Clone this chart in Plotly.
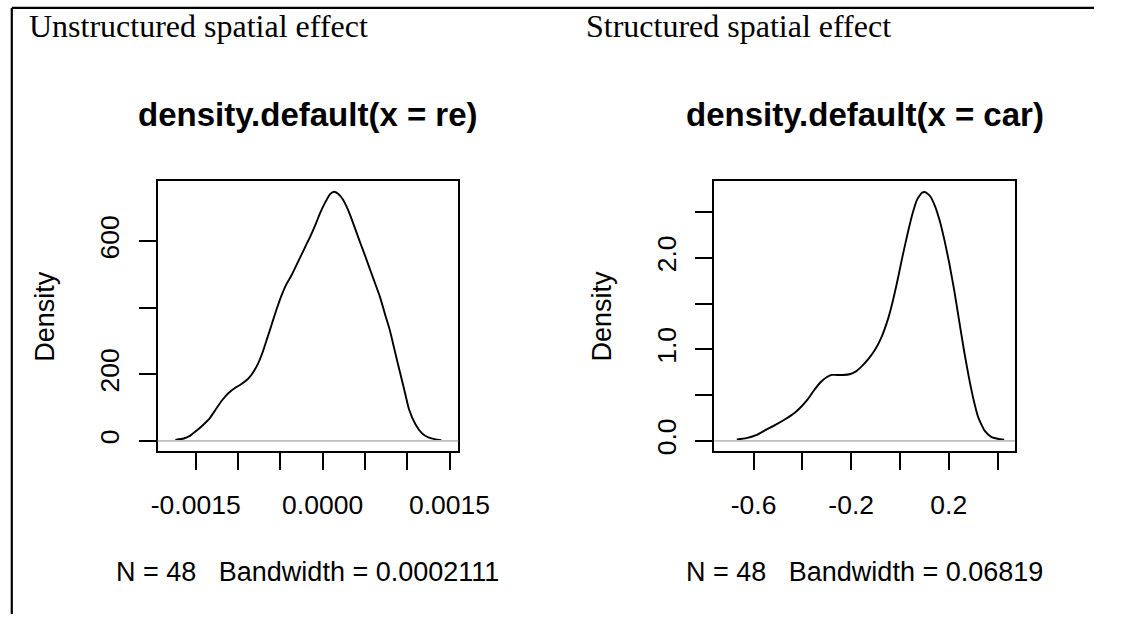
import plotly.graph_objects as go

W, H = 1126, 618

# ---- data ----
re_x = [-0.00174, -0.00164, -0.001569, -0.001492, -0.001416, -0.00134, -0.001264, -0.001188,
        -0.001112, -0.001036, -0.000959, -0.000883, -0.000826, -0.000769, -0.000712, -0.000655,
        -0.000598, -0.000541, -0.000484, -0.000426, -0.000369, -0.000312, -0.000255, -0.000198,
        -0.000141, -0.000083, -0.000026, 0.000031, 0.000088, 0.000137, 0.000183, 0.00024,
        0.000297, 0.000336, 0.000393, 0.00045, 0.000507, 0.000564, 0.000621, 0.000678,
        0.000735, 0.000793, 0.00085, 0.000907, 0.000964, 0.001021, 0.001097, 0.001173,
        0.001249, 0.001325, 0.001402]
re_density = [3, 7, 15, 30, 47, 66, 94, 122, 144, 159, 171, 186, 204, 229, 264, 308,
              353, 398, 438, 472, 497, 527, 557, 587, 617, 651, 687, 717, 742, 749, 743, 726,
              697, 672, 632, 592, 553, 513, 473, 433, 383, 334, 274, 214, 155, 95, 50, 23,
              10, 5, 2]

car_x = [-0.6686, -0.629, -0.5894, -0.5498, -0.5102, -0.4706, -0.431, -0.4046, -0.3782,
         -0.3518, -0.3254, -0.299, -0.2792, -0.2594, -0.233, -0.2066, -0.1802, -0.1538,
         -0.1274, -0.101, -0.0746, -0.0482, -0.0284, -0.0086, 0.0112, 0.031, 0.0508, 0.0706,
         0.0904, 0.1036, 0.1234, 0.1432, 0.163, 0.1828, 0.2026, 0.2224, 0.2422, 0.262, 0.2818,
         0.3016, 0.3214, 0.3478, 0.3742, 0.4006, 0.427]
car_density = [0.0145, 0.029, 0.0615, 0.119, 0.174, 0.235, 0.307, 0.372, 0.452, 0.553, 0.640,
               0.698, 0.720, 0.720, 0.720, 0.727, 0.759, 0.821, 0.90, 1.001, 1.139, 1.338,
               1.537, 1.772, 2.025, 2.260, 2.477, 2.640, 2.712, 2.719, 2.676, 2.568, 2.405,
               2.188, 1.935, 1.646, 1.320, 0.995, 0.705, 0.452, 0.253, 0.108, 0.043, 0.022, 0.011]

re_xticks = [-0.0015, -0.001, -0.0005, 0.0, 0.0005, 0.001, 0.0015]
re_xticklabels = ["-0.0015", "", "", "0.0000", "", "", "0.0015"]
re_yticks = [0, 200, 400, 600]
re_yticklabels = ["0", "200", "", "600"]
car_xticks = [-0.6, -0.4, -0.2, 0.0, 0.2, 0.4]
car_xticklabels = ["-0.6", "", "-0.2", "", "0.2", ""]
car_yticks = [0, 0.5, 1.0, 1.5, 2.0, 2.5]
car_yticklabels = ["0.0", "", "1.0", "", "2.0", ""]

panel_titles = ["Unstructured spatial effect", "Structured spatial effect"]
main_titles = ["density.default(x = re)", "density.default(x = car)"]
sub_titles = ["N = 48\u00a0\u00a0\u00a0Bandwidth = 0.0002111", "N = 48\u00a0\u00a0\u00a0Bandwidth = 0.06819"]
y_title = "Density"

# ---- layout helpers (pixels) ----
def fx(p):
    return p / W

def fy(p):
    return 1 - p / H

SANS = "Liberation Sans, Arial, sans-serif"
SERIF = "Liberation Serif, Times New Roman, serif"
FS = 26.5
OFF = 576
BOX_L, BOX_R, BOX_T, BOX_B = 157, 468, 182.3, 454.3

fig = go.Figure()
fig.add_trace(go.Scatter(x=re_x, y=re_density, mode="lines",
                         line=dict(color="black", width=1.9, shape="spline", smoothing=0.5),
                         xaxis="x", yaxis="y", showlegend=False, hoverinfo="skip"))
fig.add_trace(go.Scatter(x=car_x, y=car_density, mode="lines",
                         line=dict(color="black", width=1.9, shape="spline", smoothing=0.5),
                         xaxis="x2", yaxis="y2", showlegend=False, hoverinfo="skip"))

common = dict(showline=True, mirror=True, linecolor="black", linewidth=1.8,
              ticks="outside", ticklen=17, tickwidth=1.8, tickcolor="black",
              showgrid=False, zeroline=False,
              tickfont=dict(family=SANS, size=FS, color="black"))

ydom = [fy(BOX_B), fy(BOX_T)]
fig.update_layout(
    width=W, height=H, margin=dict(l=0, r=0, t=0, b=0),
    paper_bgcolor="white", plot_bgcolor="white",
    xaxis=dict(domain=[fx(BOX_L), fx(BOX_R)], range=[-0.001949, 0.0016027], anchor="y",
               tickvals=re_xticks, ticktext=re_xticklabels, ticklabelstandoff=12, **common),
    yaxis=dict(domain=ydom, range=[-31.7, 781], anchor="x",
               tickvals=re_yticks, ticktext=re_yticklabels, tickangle=-90,
               ticklabelstandoff=9, **common),
    xaxis2=dict(domain=[fx(BOX_L + OFF), fx(BOX_R + OFF)], range=[-0.761, 0.4706], anchor="y2",
                tickvals=car_xticks, ticktext=car_xticklabels, ticklabelstandoff=12, **common),
    yaxis2=dict(domain=ydom, range=[-0.1157, 2.839], anchor="x2",
                tickvals=car_yticks, ticktext=car_yticklabels, tickangle=-90,
                ticklabelstandoff=9, **common),
)

shapes = [
    dict(type="line", xref="paper", yref="paper", x0=fx(6), x1=1, y0=fy(8), y1=fy(8),
         line=dict(color="black", width=2.2)),
    dict(type="line", xref="paper", yref="paper", x0=fx(6), x1=fx(6), y0=0, y1=fy(8),
         line=dict(color="black", width=2.2)),
    dict(type="line", xref="x domain", yref="y", x0=0, x1=1, y0=0, y1=0,
         line=dict(color="#BEBEBE", width=1.8), layer="above"),
    dict(type="line", xref="x2 domain", yref="y2", x0=0, x1=1, y0=0, y1=0,
         line=dict(color="#BEBEBE", width=1.8), layer="above"),
]
fig.update_layout(shapes=shapes)

ann = []
for i in range(2):
    o = OFF * i
    cx = (BOX_L + BOX_R) / 2 + o
    ann.append(dict(text=panel_titles[i], x=fx(21.7 + o), y=fy(26.5), xref="paper", yref="paper",
                    xanchor="left", yanchor="middle", showarrow=False,
                    font=dict(family=SERIF, size=32, color="black")))
    ann.append(dict(text="<b>" + main_titles[i] + "</b>", x=fx(cx), y=fy(115.5), xref="paper", yref="paper",
                    xanchor="center", yanchor="middle", showarrow=False,
                    font=dict(family=SANS, size=33, color="black")))
    ann.append(dict(text=sub_titles[i], x=fx(cx), y=fy(576), xref="paper", yref="paper",
                    xanchor="center", yanchor="middle", showarrow=False,
                    font=dict(family=SANS, size=27, color="black")))
    ann.append(dict(text=y_title, x=fx(41 + o), y=fy((BOX_T + BOX_B) / 2), xref="paper", yref="paper",
                    xanchor="center", yanchor="middle", textangle=-90, showarrow=False,
                    font=dict(family=SANS, size=27, color="black")))
fig.update_layout(annotations=ann)

fig.write_html("out.html", config={"displayModeBar": False},
               post_script="document.body.style.margin='0';document.body.style.overflow='hidden';")
